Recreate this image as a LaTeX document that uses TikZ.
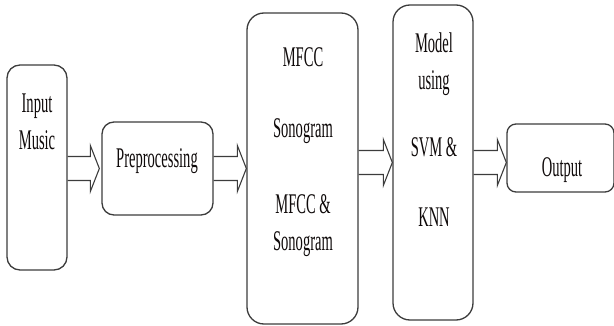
\documentclass[tikz,border=0pt]{standalone}
\usepackage{fontspec}
\setmainfont[FakeStretch=0.51]{Liberation Serif}
\usetikzlibrary{calc}
\definecolor{edge}{RGB}{60,60,60}
\definecolor{ink}{RGB}{15,10,10}
\tikzset{
  box/.style={draw=edge, line width=1.3pt, fill=white, inner sep=0pt},
  lbl/.style={anchor=base, inner sep=0pt, text=ink, font=\fontsize{28.5}{37}\selectfont},
  blockarrow/.style={draw=edge, line width=1.1pt, to path={
    ([yshift=12pt]\tikztostart) -- ([xshift=-9pt,yshift=12pt]\tikztotarget)
    -- ([xshift=-9pt,yshift=23pt]\tikztotarget) -- (\tikztotarget)
    -- ([xshift=-9pt,yshift=-23pt]\tikztotarget) -- ([xshift=-9pt,yshift=-12pt]\tikztotarget)
    -- ([yshift=-12pt]\tikztostart)}}
}
\begin{document}
\begin{tikzpicture}[x=1pt,y=-1pt]
\useasboundingbox (0,0) rectangle (614,326);
% boxes
\node[box, rounded corners=13pt, minimum width=60pt, minimum height=205pt] (b1) at (37,167.5) {};
\node[box, rounded corners=12pt, minimum width=111pt, minimum height=93pt] (b2) at (157.5,168.5) {};
\node[box, rounded corners=17pt, minimum width=111pt, minimum height=311pt] (b3) at (302.5,168.5) {};
\node[box, rounded corners=17pt, minimum width=80pt, minimum height=315pt] (b4) at (433,162.5) {};
\node[box, rounded corners=9pt, minimum width=107pt, minimum height=68pt] (b5) at (560.5,158) {};
% arrows
\coordinate (a1s) at (b1.east |- b2.west);
\coordinate (a1e) at ([xshift=-2pt]b2.west);
\draw[blockarrow] (a1s) to (a1e);
\coordinate (a2e) at (b3.west |- b2.east);
\draw[blockarrow] (b2.east) to (a2e);
\coordinate (a3s) at (b3.east |- b4.west);
\draw[blockarrow] (a3s) to (b4.west);
\coordinate (a4e) at (b5.west |- b4.east);
\draw[blockarrow] (b4.east) to (a4e);
% texts
\node[lbl] (t1a) at (37,113) {Input};
\node[lbl] (t1b) at (37,150) {Music};
\node[lbl] (t2) at (157,168) {Preprocessing};
\node[lbl] (t3a) at (303,67) {MFCC};
\node[lbl] (t3b) at (303,138) {Sonogram};
\node[lbl] (t3c) at (303,214) {MFCC \&};
\node[lbl] (t3d) at (303,251) {Sonogram};
\node[lbl] (t4a) at (434,53) {Model};
\node[lbl] (t4b) at (434,90) {using};
\node[lbl] (t4c) at (434,157) {SVM \&};
\node[lbl] (t4d) at (434,227) {KNN};
\node[lbl] (t5) at (562,177) {Output};
\end{tikzpicture}
\end{document}
